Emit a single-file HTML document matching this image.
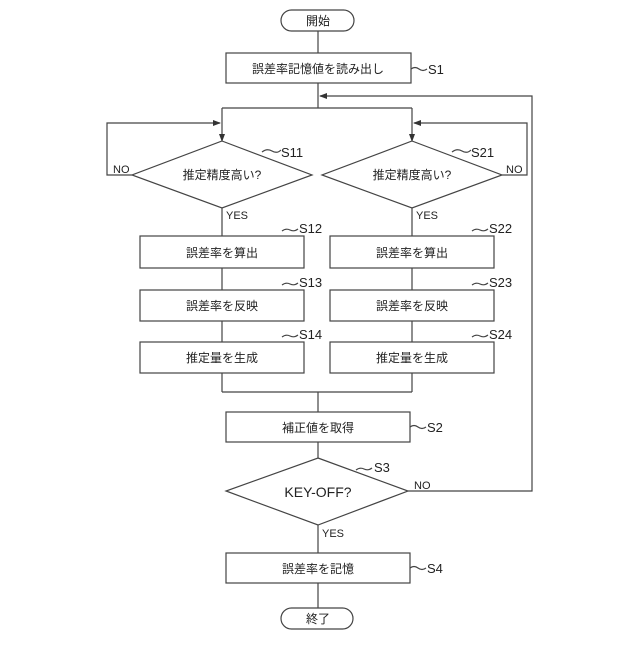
<!DOCTYPE html>
<html><head><meta charset="utf-8"><style>
body{margin:0;background:#fff}
svg text{font-family:"Liberation Sans","Noto Sans CJK JP",sans-serif;fill:#222}
</style></head><body>
<svg width="640" height="640" viewBox="0 0 640 640" xmlns="http://www.w3.org/2000/svg">
<defs><marker id="a" markerWidth="8" markerHeight="8" refX="7" refY="4" orient="auto" markerUnits="userSpaceOnUse"><path d="M0,1 L8,4 L0,7 Z" fill="#333"/></marker></defs>
<g stroke="#444" stroke-width="1.2" fill="none">
<rect x="281" y="10" width="73" height="21" rx="10.5"/>
<rect x="226" y="53" width="185" height="30"/>
<line x1="318" y1="31" x2="318" y2="53"/>
<line x1="318" y1="83" x2="318" y2="108"/>
<polyline points="408,491 532,491 532,96 320,96" marker-end="url(#a)"/>
<line x1="222" y1="108" x2="412" y2="108"/>
<line x1="222" y1="108" x2="222" y2="141" marker-end="url(#a)"/>
<line x1="412" y1="108" x2="412" y2="141" marker-end="url(#a)"/>
<polyline points="132,175 107,175 107,123 220,123" marker-end="url(#a)"/>
<polyline points="502,175 527,175 527,123 414,123" marker-end="url(#a)"/>
<polygon points="222,141 312,175 222,208 132,175"/>
<polygon points="412,141 502,175 412,208 322,175"/>
<line x1="222" y1="208" x2="222" y2="392"/>
<line x1="412" y1="208" x2="412" y2="392"/>
<rect x="140" y="236" width="164" height="32" fill="#fff"/>
<rect x="140" y="290" width="164" height="31" fill="#fff"/>
<rect x="140" y="342" width="164" height="31" fill="#fff"/>
<rect x="330" y="236" width="164" height="32" fill="#fff"/>
<rect x="330" y="290" width="164" height="31" fill="#fff"/>
<rect x="330" y="342" width="164" height="31" fill="#fff"/>
<line x1="222" y1="392" x2="412" y2="392"/>
<line x1="318" y1="392" x2="318" y2="412"/>
<rect x="226" y="412" width="184" height="30"/>
<line x1="318" y1="442" x2="318" y2="458"/>
<polygon points="318,458 408,491 318,525 226,491"/>
<line x1="318" y1="525" x2="318" y2="553"/>
<rect x="226" y="553" width="184" height="30"/>
<line x1="318" y1="583" x2="318" y2="608"/>
<rect x="281" y="608" width="72" height="21" rx="10.5"/>
<path d="M411,69 q4,-3 8,0 t8,0"/>
<path d="M410,427 q4,-3 8,0 t8,0"/>
<path d="M410,568 q4,-3 8,0 t8,0"/>
<path d="M262,152 q5,-4 10,-1 t9,-1"/>
<path d="M452,152 q5,-4 10,-1 t9,-1"/>
<path d="M282,231 q4,-3 8,-1 t8,-1"/>
<path d="M472,231 q4,-3 8,-1 t8,-1"/>
<path d="M282,285 q4,-3 8,-1 t8,-1"/>
<path d="M472,285 q4,-3 8,-1 t8,-1"/>
<path d="M282,337 q4,-3 8,-1 t8,-1"/>
<path d="M472,337 q4,-3 8,-1 t8,-1"/>
<path d="M356,470 q4,-3 8,-1 t8,-1"/>
</g>
<g font-size="12" text-anchor="middle">
<text x="318" y="25">開始</text>
<text x="318" y="73">誤差率記憶値を読み出し</text>
<text x="222" y="179">推定精度高い?</text>
<text x="412" y="179">推定精度高い?</text>
<text x="222" y="257">誤差率を算出</text>
<text x="222" y="310">誤差率を反映</text>
<text x="222" y="362">推定量を生成</text>
<text x="412" y="257">誤差率を算出</text>
<text x="412" y="310">誤差率を反映</text>
<text x="412" y="362">推定量を生成</text>
<text x="318" y="432">補正値を取得</text>
<text x="318" y="573">誤差率を記憶</text>
<text x="318" y="623">終了</text>
<text x="318" y="497" font-size="14">KEY-OFF?</text>
</g>
<g font-size="13">
<text x="428" y="74">S1</text><text x="427" y="432">S2</text><text x="374" y="472">S3</text><text x="427" y="573">S4</text>
<text x="281" y="157">S11</text><text x="471" y="157">S21</text>
<text x="299" y="233">S12</text><text x="489" y="233">S22</text>
<text x="299" y="287">S13</text><text x="489" y="287">S23</text>
<text x="299" y="339">S14</text><text x="489" y="339">S24</text>
</g>
<g font-size="11">
<text x="113" y="173">NO</text><text x="506" y="173">NO</text><text x="414" y="489">NO</text>
<text x="226" y="219">YES</text><text x="416" y="219">YES</text><text x="322" y="537">YES</text>
</g>
</svg>
</body></html>
